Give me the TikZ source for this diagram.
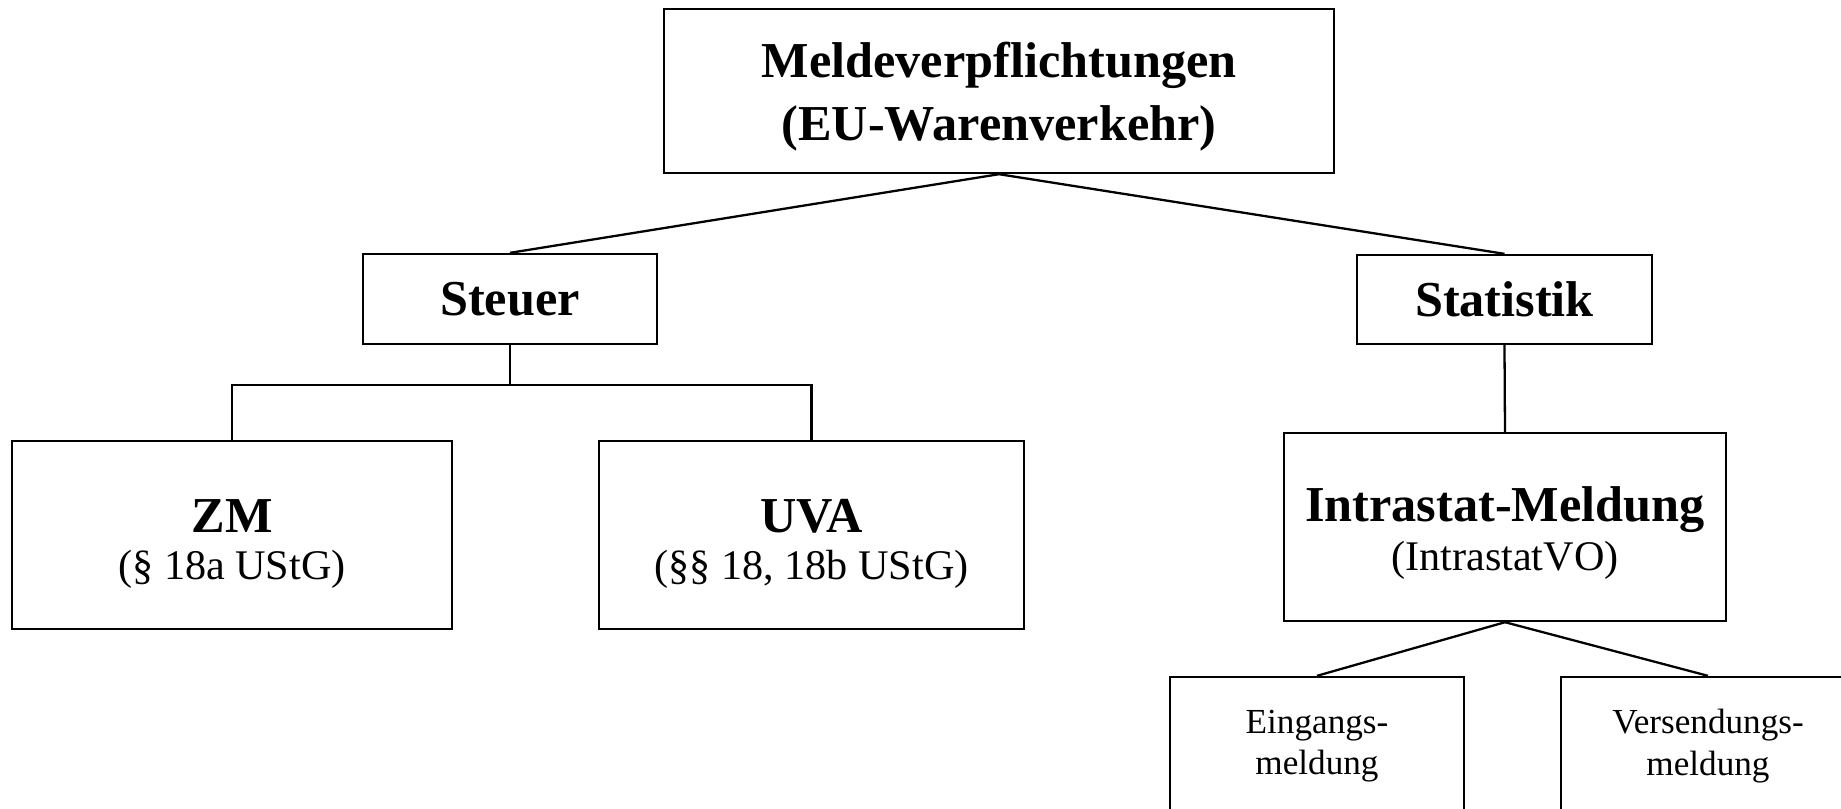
\documentclass[tikz,border=0pt]{standalone}
\usepackage{fontspec}
\setmainfont{Liberation Serif}
\usepackage{tikz}

\begin{document}
\begin{tikzpicture}[
    x=0.01cm, y=-0.01cm,
    % Define styles for consistent formatting
    box/.style={draw=black, line width=0.65pt, inner sep=0pt, align=center},
    headlabel/.style={font=\fontsize{14.3}{18}\selectfont\bfseries},
    smalllabel/.style={font=\fontsize{10}{11.8}\selectfont},
    connector/.style={line width=0.65pt}
]

% Macros for the two-line report boxes
\newcommand{\titletext}[1]{{\fontsize{14.3}{16}\selectfont\bfseries #1}}
\newcommand{\lawtext}[1]{{\fontsize{12}{15}\selectfont #1}}
\newcommand{\topstrut}[1]{\rule{0pt}{#1}}

% Fixed page size
\useasboundingbox (0,0) rectangle (1841,808);

% Top level
\node [box, headlabel, minimum width=6.7cm, minimum height=1.64cm] (meld) at (999,91)
    {\topstrut{13.3pt}Meldeverpflichtungen\\(EU-Warenverkehr)};

% Second level
\node [box, headlabel, minimum width=2.94cm, minimum height=0.9cm] (steuer) at (510,299) {Steuer};
\node [box, headlabel, minimum width=2.95cm, minimum height=0.89cm] (statistik) at (1504.5,299.5) {Statistik};

% Tax reports
\node [box, minimum width=4.4cm, minimum height=1.88cm] (zm) at (232,535)
    {\topstrut{14.6pt}\titletext{ZM}\\[1.5pt]\lawtext{(§ 18a UStG)}};
\node [box, minimum width=4.25cm, minimum height=1.88cm] (uva) at (811.5,535)
    {\topstrut{14.6pt}\titletext{UVA}\\[1.5pt]\lawtext{(§§ 18, 18b UStG)}};

% Statistics report
\node [box, minimum width=4.42cm, minimum height=1.88cm] (intra) at (1505,527)
    {\topstrut{13.2pt}\titletext{Intrastat-Meldung}\\[2pt]\lawtext{(IntrastatVO)}};
\node [box, smalllabel, minimum width=2.94cm, minimum height=1.38cm] (eingang) at (1317,746)
    {Eingangs-\\meldung};
\node [box, smalllabel, minimum width=2.94cm, minimum height=1.38cm] (versand) at (1708,746)
    {Versendungs-\\meldung};

% Connectors
\coordinate (split) at (510,385);
\draw [connector] (meld.south) -- (steuer.north);
\draw [connector] (meld.south) -- (statistik.north);
\draw [connector] (steuer.south) -- (split);
\draw [connector] (zm.north) |- (split) -| (uva.north);
\draw [connector] (statistik.south) -- (intra.north);
\draw [connector] (intra.south) -- (eingang.north);
\draw [connector] (intra.south) -- (versand.north);

\end{tikzpicture}
\end{document}
